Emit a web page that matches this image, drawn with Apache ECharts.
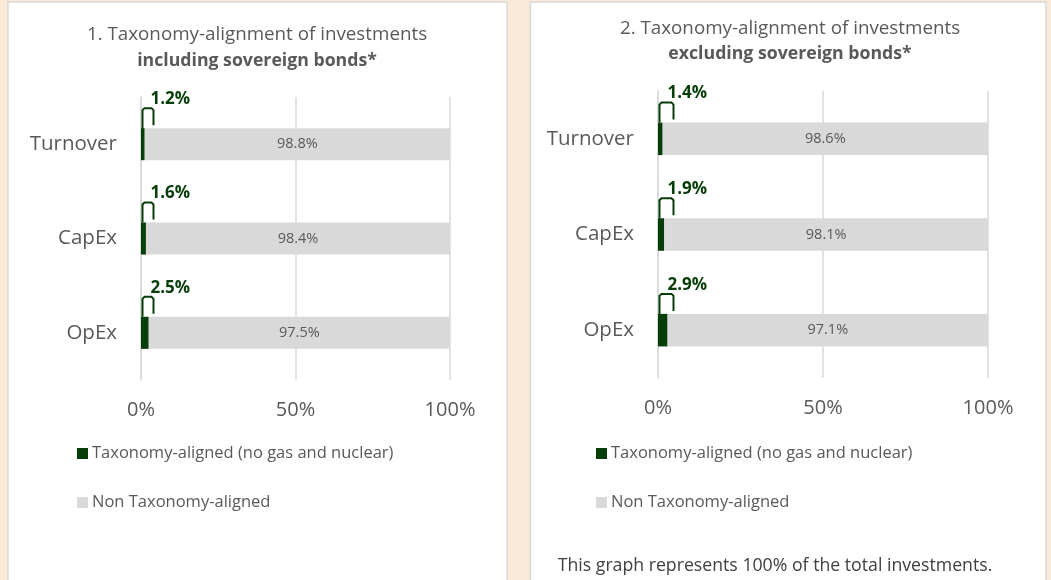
<!DOCTYPE html>
<html>
<head>
<meta charset="utf-8">
<script src="https://cdn.jsdelivr.net/npm/echarts@6/dist/echarts.min.js"></script>
<style>
  html, body { margin: 0; padding: 0; background: #FBE9D7; }
  #main { width: 1051px; height: 580px; }
</style>
</head>
<body>
<div id="main"></div>
<script>
let categories = ['Turnover', 'CapEx', 'OpEx'];
let alignedIncl = [1.2, 1.6, 2.5];
let nonAlignedIncl = [98.8, 98.4, 97.5];
let alignedExcl = [1.4, 1.9, 2.9];
let nonAlignedExcl = [98.6, 98.1, 97.1];
let xTicks = [0, 50, 100];

let GREEN = '#063D08';
let GREY = '#D9D9D9';
let TXT = '#595959';
let FONT = '"Open Sans", Lato, sans-serif';
let BAR_W = 0.34;

let Utils = {};

Utils.xAxis = function (idx) {
  return {
    type: 'value', gridIndex: idx, min: xTicks[0], max: xTicks[xTicks.length - 1], interval: 50,
    axisLine: {show: false}, axisTick: {show: false},
    splitLine: {lineStyle: {color: GREY, width: 1.5}},
    axisLabel: {formatter: '{value}%', color: TXT, fontSize: 20, fontFamily: FONT, margin: 20}
  };
};

Utils.yAxis = function (idx) {
  return {
    type: 'category', gridIndex: idx, data: categories, inverse: true,
    axisLine: {lineStyle: {color: GREY, width: 1.5}},
    axisTick: {length: 8, lineStyle: {color: GREY, width: 1.5}},
    axisLabel: {color: TXT, fontSize: 20.5, fontFamily: FONT, margin: 24}
  };
};

Utils.bars = function (idx, aligned, nonAligned) {
  return [{
    name: 'Taxonomy-aligned (no gas and nuclear)', type: 'bar', stack: 's' + idx,
    xAxisIndex: idx, yAxisIndex: idx, data: aligned, barWidth: (BAR_W * 100) + '%',
    itemStyle: {color: GREEN}
  }, {
    name: 'Non Taxonomy-aligned', type: 'bar', stack: 's' + idx,
    xAxisIndex: idx, yAxisIndex: idx, data: nonAligned, barWidth: (BAR_W * 100) + '%',
    itemStyle: {color: GREY},
    label: {
      show: true, position: 'inside', color: TXT, fontSize: 14.5, fontFamily: FONT,
      formatter: p => p.value.toFixed(1) + '%'
    }
  }];
};

// Excel-style callout bracket above the small green bar, with its label
Utils.callout = function (idx, aligned, bw) {
  return {
    type: 'custom', xAxisIndex: idx, yAxisIndex: idx, silent: true, z: 5,
    data: aligned.map((v, i) => [v, i]),
    encode: {x: 0, y: 1},
    renderItem: function (params, api) {
      let p = api.coord([0, api.value(1)]);
      let band = api.size([0, 1])[1];
      let barTop = p[1] - band * BAR_W / 2;
      let x0 = p[0] + 1.5;
      let top = barTop - 20;
      return {
        type: 'group',
        children: [{
          type: 'polyline',
          shape: {points: [[x0, barTop], [x0, top + 2], [x0 + 2, top], [x0 + bw - 2, top], [x0 + bw, top + 2], [x0 + bw, barTop - 3]]},
          style: {stroke: GREEN, lineWidth: 2, fill: null}
        }, {
          type: 'text',
          style: {
            x: x0 + 8, y: top - 9, text: api.value(0).toFixed(1) + '%',
            fill: GREEN, font: 'bold 17px ' + FONT, textVerticalAlign: 'middle'
          }
        }]
      };
    }
  };
};

Utils.legend = function (left) {
  return {
    left: left, top: 445, orient: 'vertical', padding: 0, itemGap: 32, itemWidth: 11, itemHeight: 11,
    icon: 'rect', itemStyle: {borderWidth: 0},
    data: ['Taxonomy-aligned (no gas and nuclear)', 'Non Taxonomy-aligned'],
    textStyle: {color: TXT, fontSize: 16.5, fontFamily: FONT, padding: [0, 0, 0, -1]}
  };
};

Utils.text = function (x, y, text, font, fill) {
  return {
    type: 'text', x: x, y: y,
    style: {text: text, font: font, fill: fill || TXT, textAlign: 'center', textVerticalAlign: 'middle'}
  };
};

let option = {
  backgroundColor: '#FBE9D7',
  animation: false,
  graphic: [
    {type: 'rect', z: -10, shape: {x: 8, y: 2, width: 499, height: 600}, style: {fill: '#fff', stroke: GREY, lineWidth: 1.5}},
    {type: 'rect', z: -10, shape: {x: 530.5, y: 2, width: 515.5, height: 600}, style: {fill: '#fff', stroke: GREY, lineWidth: 1.5}},
    Utils.text(257, 35, '1. Taxonomy-alignment of investments', '18.8px ' + FONT),
    Utils.text(257, 61, 'including sovereign bonds*', 'bold 17.7px ' + FONT),
    Utils.text(790, 29, '2. Taxonomy-alignment of investments', '18.8px ' + FONT),
    Utils.text(790, 54, 'excluding sovereign bonds*', 'bold 17.7px ' + FONT),
    Utils.text(775, 566, 'This graph represents 100% of the total investments.', '17.7px ' + FONT, '#404040')
  ],
  grid: [
    {left: 141, top: 97, width: 309, height: 283},
    {left: 658, top: 91, width: 330, height: 287}
  ],
  xAxis: [Utils.xAxis(0), Utils.xAxis(1)],
  yAxis: [Utils.yAxis(0), Utils.yAxis(1)],
  legend: [Utils.legend(77), Utils.legend(596)],
  series: [].concat(
    Utils.bars(0, alignedIncl, nonAlignedIncl),
    Utils.bars(1, alignedExcl, nonAlignedExcl),
    [Utils.callout(0, alignedIncl, 11), Utils.callout(1, alignedExcl, 14)]
  )
};

let chart = echarts.init(document.getElementById('main'));
chart.setOption(option);
</script>
</body>
</html>
